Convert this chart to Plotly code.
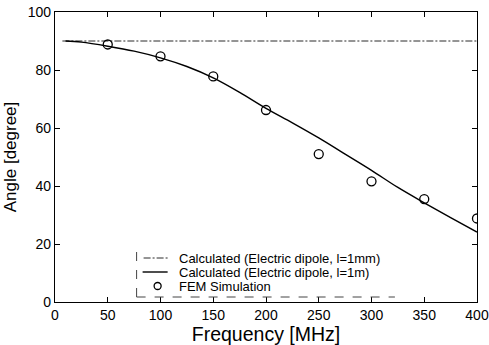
import plotly.graph_objects as go

# Calculated, electric dipole l=1mm (flat at 90 deg)
freq_short = [7, 400]
angle_short = [90, 90]

# Calculated, electric dipole l=1m
freq_long = [10, 25, 50, 75, 100, 125, 150, 175, 200, 225, 250, 275, 300, 325, 350, 375, 400]
angle_long = [90, 89.6, 88.2, 86.5, 84.2, 81.2, 77.3, 72.3, 66.8, 61.8, 56.6, 51.0, 45.4, 39.5, 34.2, 29.1, 24.1]

# FEM simulation
freq_fem = [50, 100, 150, 200, 250, 300, 350, 400]
angle_fem = [88.8, 84.7, 77.8, 66.2, 51.0, 41.6, 35.5, 28.8]

x_ticks = [0, 50, 100, 150, 200, 250, 300, 350, 400]
y_ticks = [0, 20, 40, 60, 80, 100]

legend_labels = ["Calculated (Electric dipole, l=1mm)",
                 "Calculated (Electric dipole, l=1m)",
                 "FEM Simulation"]

FONT = "Liberation Sans, Arial"
DASHDOT = "7px,2px,2px,2px"

fig = go.Figure()
fig.add_trace(go.Scatter(x=freq_short, y=angle_short, mode="lines",
                         name=legend_labels[0],
                         line=dict(color="#2a2a2a", width=1, dash=DASHDOT)))
fig.add_trace(go.Scatter(x=freq_long, y=angle_long, mode="lines",
                         name=legend_labels[1],
                         line=dict(color="black", width=1.4, shape="spline")))
fig.add_trace(go.Scatter(x=freq_fem, y=angle_fem, mode="markers",
                         name=legend_labels[2],
                         marker=dict(symbol="circle-open", size=9, color="black",
                                     line=dict(width=1.3, color="black"))))

axis_common = dict(showgrid=False, zeroline=False, showline=True, linecolor="black",
                   linewidth=1.2, mirror="ticks", ticks="inside", ticklen=5,
                   tickcolor="black", automargin=False,
                   tickfont=dict(family=FONT, size=14, color="black"))

fig.update_xaxes(range=[0, 400], tickvals=x_ticks,
                 title=dict(text="Frequency [MHz]", font=dict(family=FONT, size=19.5, color="black"), standoff=6),
                 **axis_common)
fig.update_yaxes(range=[0, 100], tickvals=y_ticks,
                 title=dict(text="Angle [degree]", font=dict(family=FONT, size=17, color="black"), standoff=6),
                 **axis_common)

# hand-drawn legend (paper coordinates relative to plot area)
PX0, PX1, PY0, PY1 = 55.5, 477, 302, 12  # approximate pixel extents of plot area


def px(x):
    return (x - PX0) / (PX1 - PX0)


def py(y):
    return (PY0 - y) / (PY0 - PY1)


# dashed legend frame (left and bottom edges)
fig.add_shape(type="line", xref="paper", yref="paper", x0=px(137), x1=px(137), y0=py(297), y1=py(249),
              line=dict(color="#444444", width=1, dash="dash"))
fig.add_shape(type="line", xref="paper", yref="paper", x0=px(137), x1=px(395), y0=py(297), y1=py(297),
              line=dict(color="#444444", width=1, dash="dash"))

rows_y = [258, 272, 286]
fig.add_shape(type="line", xref="paper", yref="paper", x0=px(144), x1=px(168), y0=py(rows_y[0]), y1=py(rows_y[0]),
              line=dict(color="#2a2a2a", width=1, dash=DASHDOT))
fig.add_shape(type="line", xref="paper", yref="paper", x0=px(143), x1=px(168), y0=py(rows_y[1]), y1=py(rows_y[1]),
              line=dict(color="black", width=1.4))
fig.add_shape(type="circle", xref="paper", yref="paper", x0=px(154.5), x1=px(161.5),
              y0=py(rows_y[2] + 3.5), y1=py(rows_y[2] - 3.5),
              line=dict(color="black", width=1.3))
for label, ry in zip(legend_labels, rows_y):
    fig.add_annotation(text=label, xref="paper", yref="paper", x=px(177), y=py(ry),
                       xanchor="left", yanchor="middle", showarrow=False,
                       font=dict(family=FONT, size=13, color="black"))

fig.update_layout(
    width=489, height=345,
    margin=dict(l=55, r=12, t=12, b=43),
    plot_bgcolor="white", paper_bgcolor="white",
    font=dict(family=FONT, color="black"),
    showlegend=False,
)

fig.write_html("out.html")
